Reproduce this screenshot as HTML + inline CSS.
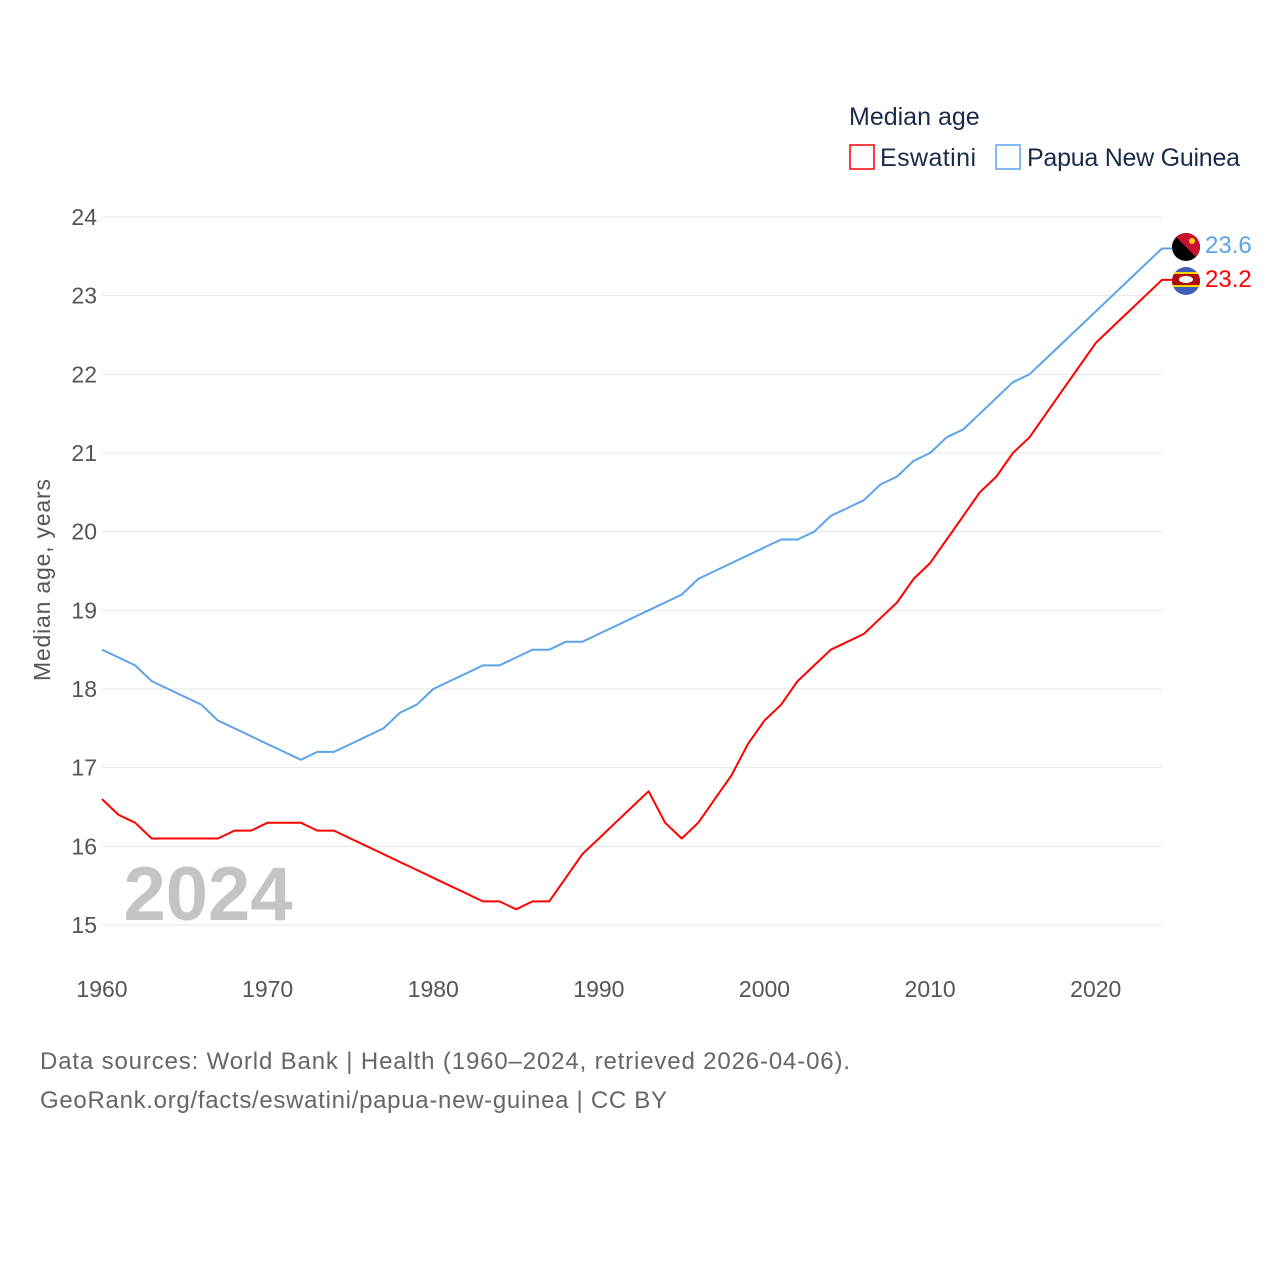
<!DOCTYPE html>
<html><head><meta charset="utf-8">
<style>
body{margin:0;background:#fff;font-family:"Liberation Sans",sans-serif;}
svg text{font-family:"Liberation Sans",sans-serif;}
</style></head>
<body>
<svg id="chart" width="1280" height="1280" viewBox="0 0 1280 1280">
<defs>
<clipPath id="c1"><circle cx="1186" cy="247" r="14"/></clipPath>
<clipPath id="c2"><circle cx="1186" cy="281" r="14"/></clipPath>
</defs>
<g id="grid"></g>
<g id="yticks"></g>
<g id="xticks"></g>
<text x="208" y="920" font-size="76" font-weight="bold" fill="#c4c4c4" text-anchor="middle">2024</text>
<text transform="translate(50,580) rotate(-90)" font-size="23" fill="#555" text-anchor="middle" textLength="202">Median age, years</text>
<g id="lines"></g>
<g>
<text x="849" y="125" font-size="25" fill="#1a2b4a">Median age</text>
<g><rect x="850" y="145" width="24" height="24" fill="none" stroke="#ff0000" stroke-width="1.5"/><text x="880" y="166" font-size="25" fill="#1a2b4a" textLength="96">Eswatini</text></g>
<g><rect x="996" y="145" width="24" height="24" fill="none" stroke="#5ba4ea" stroke-width="1.5"/><text x="1027" y="166" font-size="25" fill="#1a2b4a" textLength="213">Papua New Guinea</text></g>
</g>
<g>
<g clip-path="url(#c1)"><rect x="1172" y="233" width="28" height="28" fill="#000"/><path d="M1172 233 L1200 233 L1200 261 Z" fill="#c8102e"/><circle cx="1192" cy="241" r="3" fill="#fcd116"/></g>
<text x="1205" y="253" font-size="24" fill="#5ba4ea">23.6</text>
<g clip-path="url(#c2)"><rect x="1172" y="267" width="28" height="28" fill="#3e5eb9"/><rect x="1172" y="272" width="28" height="2" fill="#ffd900"/><rect x="1172" y="274" width="28" height="11" fill="#b10c0c"/><rect x="1172" y="285" width="28" height="2" fill="#ffd900"/><ellipse cx="1186" cy="279.5" rx="7" ry="3.5" fill="#fff"/></g>
<text x="1205" y="287" font-size="24" fill="#ff0000">23.2</text>
</g>
<text x="40" y="1069" font-size="24" fill="#666" textLength="810">Data sources: World Bank | Health (1960–2024, retrieved 2026-04-06).</text>
<text x="40" y="1108" font-size="24" fill="#666" textLength="627">GeoRank.org/facts/eswatini/papua-new-guinea | CC BY</text>
</svg>
<script>
const years = [];
for (let y = 1960; y <= 2024; y++) years.push(y);
const png = [18.5,18.4,18.3,18.1,18.0,17.9,17.8,17.6,17.5,17.4,17.3,17.2,17.1,17.2,17.2,17.3,17.4,17.5,17.7,17.8,18.0,18.1,18.2,18.3,18.3,18.4,18.5,18.5,18.6,18.6,18.7,18.8,18.9,19.0,19.1,19.2,19.4,19.5,19.6,19.7,19.8,19.9,19.9,20.0,20.2,20.3,20.4,20.6,20.7,20.9,21.0,21.2,21.3,21.5,21.7,21.9,22.0,22.2,22.4,22.6,22.8,23.0,23.2,23.4,23.6];
const swz = [16.6,16.4,16.3,16.1,16.1,16.1,16.1,16.1,16.2,16.2,16.3,16.3,16.3,16.2,16.2,16.1,16.0,15.9,15.8,15.7,15.6,15.5,15.4,15.3,15.3,15.2,15.3,15.3,15.6,15.9,16.1,16.3,16.5,16.7,16.3,16.1,16.3,16.6,16.9,17.3,17.6,17.8,18.1,18.3,18.5,18.6,18.7,18.9,19.1,19.4,19.6,19.9,20.2,20.5,20.7,21.0,21.2,21.5,21.8,22.1,22.4,22.6,22.8,23.0,23.2];
const yTicks = [15,16,17,18,19,20,21,22,23,24];
const xTicks = [1960,1970,1980,1990,2000,2010,2020];
const NS = "http://www.w3.org/2000/svg";
const X = v => 102 + (v - 1960) * (1162 - 102) / 64;
const Y = v => 925 - (v - 15) * (925 - 217) / 9;
const grid = document.getElementById('grid'), yt = document.getElementById('yticks'), xt = document.getElementById('xticks'), lines = document.getElementById('lines');
yTicks.forEach(t => {
  const l = document.createElementNS(NS,'line');
  l.setAttribute('x1',102); l.setAttribute('x2',1162); l.setAttribute('y1',Y(t)); l.setAttribute('y2',Y(t));
  l.setAttribute('stroke','#e6e6e6'); l.setAttribute('stroke-width','1');
  
  
  grid.appendChild(l);
  const tx = document.createElementNS(NS,'text');
  tx.setAttribute('x',97); tx.setAttribute('y',Y(t)+8); tx.setAttribute('text-anchor','end');
  tx.setAttribute('font-size','23'); tx.setAttribute('fill','#555'); tx.textContent = t;
  
  
  yt.appendChild(tx);
});
xTicks.forEach(t => {
  const tx = document.createElementNS(NS,'text');
  tx.setAttribute('x',X(t)); tx.setAttribute('y',997); tx.setAttribute('text-anchor','middle');
  tx.setAttribute('font-size','23'); tx.setAttribute('fill','#555'); tx.textContent = t;
  
  
  xt.appendChild(tx);
});
function drawLine(vals, color, name) {
  const pts = vals.map((v,i) => X(years[i]).toFixed(1)+','+Y(v).toFixed(1));
  pts.push('1172,' + Y(vals[vals.length-1]).toFixed(1));
  const p = document.createElementNS(NS,'polyline');
  p.setAttribute('points', pts.join(' '));
  p.setAttribute('fill','none'); p.setAttribute('stroke',color); p.setAttribute('stroke-width','2');
  p.setAttribute('stroke-linejoin','round');
  
  
  lines.appendChild(p);
}
drawLine(png, '#5ba4ea', 'line-papua-new-guinea');
drawLine(swz, '#ff0000', 'line-eswatini');
</script>
</body></html>
